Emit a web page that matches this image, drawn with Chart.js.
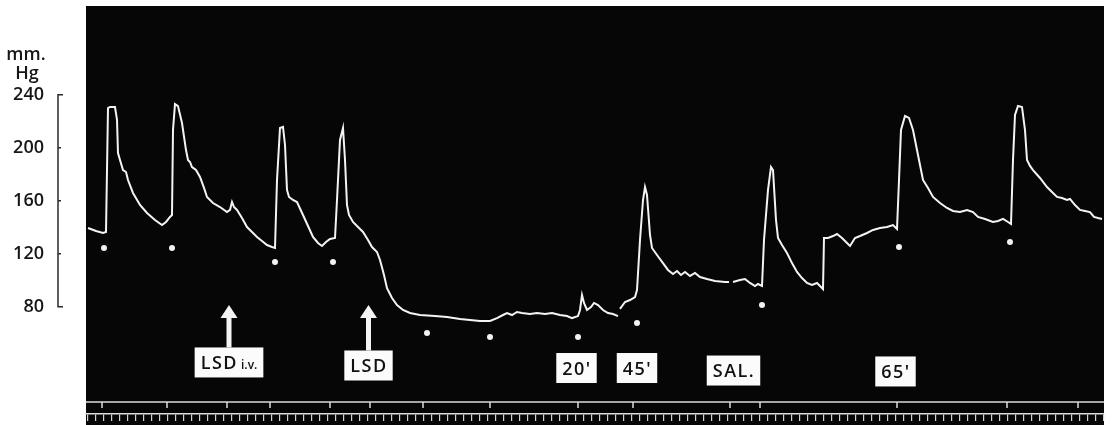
<!DOCTYPE html>
<html><head><meta charset="utf-8">
<script src="https://cdn.jsdelivr.net/npm/chart.js@4.4.1/dist/chart.umd.min.js"></script>
<style>html,body{margin:0;padding:0;background:#fff;}#wrap{width:1112px;height:425px;}</style>
</head><body><div id="wrap"><canvas id="c" width="1112" height="425"></canvas></div>
<script>
// ---- data (time in record units, pressure in mm Hg) ----
const TIME = [0,8,15,18,20,22,27,29,30,32,35,38,40,45,52,59,67,74,78,82,84,85,87,90,94,98,100,102,104,108,112,116,119,125,132,139,142,144,146,149,154,159,164,169,174,179,184,187,189,192,195,197,199,201,205,209,215,220,225,230,234,238,242,247,249,252,255,257,259,261,265,270,275,280,284,289,292,296,299,304,309,315,322,332,347,359,372,382,392,402,409,415,419,424,429,434,442,449,457,464,472,479,484,490,492,494,496,499,503,506,510,515,520,525,530,531,532,537,542,547,549,552,555,557,559,562,564,569,575,580,585,589,593,597,602,607,612,619,627,637,641,643,645,652,657,662,667,670,674,676,680,683,685,688,690,694,699,704,709,714,719,724,729,732,735,736,740,745,749,754,759,762,767,772,779,785,792,799,805,809,811,813,817,821,825,829,832,835,840,845,852,859,865,872,879,885,890,897,905,910,915,920,923,925,927,930,934,937,939,942,945,952,959,965,969,974,979,982,987,992,997,1002,1006,1010,1014];
const PRESSURE = [139.5,137.2,135.7,136.5,230,230.8,230.8,221,196,190.8,183.2,181.7,175.7,165.9,156.8,150.8,145.5,141.7,144,147.8,149.3,213.4,233,231.5,218.7,198.3,190.8,189.3,185.5,183.2,178,169.7,162.9,158.3,155.3,151.5,153.1,159.1,155.3,153.1,147,140.2,136.5,132.7,129.7,126.6,125.1,124.4,175.7,214.9,215.7,202.1,168.2,162.9,160.6,159.1,149.3,141,132.7,128.2,125.9,128.9,131.2,131.9,160.6,205.9,215,190.8,156.8,149.3,144,140.2,136.5,130.4,125.1,121.4,115.3,104,94.1,86.6,81.3,77.6,75.3,73.8,73,72.3,70.8,70,69.3,69.3,71.5,73.8,75.3,73.8,76.1,75.3,74.6,75.3,74.6,75.3,73.8,73,71.5,73,77.6,88.9,82.9,77.6,79.8,82.9,81.3,77.6,75.3,74.6,73,null,78.4,83.6,85.1,87.4,92.7,130.4,160.6,170.4,164.4,134.2,124.4,119.1,113,107.8,104.8,107,104,106.3,103.3,105.5,102.5,101,99.5,98.7,98.7,null,98.7,100.2,101,98,95.7,97.2,95.7,130.4,168.2,185.5,183.2,145.5,131.9,126.6,120.6,113,106.3,101.7,98,96.5,98,95.7,93.4,131.9,131.9,133.4,134.9,131.9,128.2,125.9,131.9,133.4,135.7,138,139.5,140.2,141.7,138.7,175.7,213.4,224,222.5,213.4,198.3,187,175.7,169.7,162.9,158.3,154.6,152.3,151.5,153.1,151.5,147.8,146.3,144,144.8,146.3,144,142.5,190.8,224.8,231.5,230.8,213.4,190.8,186.3,183.2,177.2,170.4,165.9,162.9,162.1,160.6,161.4,156.8,153.1,152.3,151.5,147.8,147,146.3];

// injection dots under the trace
const DOT_T = [16,84,187,245,339,402,490,549,674,811,922];
const DOT_P = [124.4,124.4,113.8,113.8,60.2,57.2,57.2,67.8,81.4,125.1,128.9];

// signal-marker events (upper marker line)
const EVENT_T = [14,79,139,182,242,282,335,402,490,545,642,672,809,919,990];
const MARKER_LEVEL = 8.2;
const EVENT_TICK_LEVEL = 5.9;

// axis
const Y_TICKS = [80,120,160,200,240];
const Y_UNIT = ['mm.', 'Hg'];
const T_MIN = -2, T_MAX = 1016, P_MIN = -0.9, P_MAX = 307.0;
const TIME_MARK_STEP = 8;

// annotation labels
const LABEL_TEXT = ['LSD','LSD',"20'","45'",'SAL.',"65'"];
const LABEL_SUB = ['i.v.','','','','',''];
const LABEL_T = [141,280.5,488.5,549,645.5,807.5];
const LABEL_P = [38.0,35.7,33.8,33.8,31.9,31.2];
const ARROW_LABEL = [0,1];
const ARROW_TIP_P = [81.4,81.4];

const AXIS_FONT = '"Open Sans", Lato, sans-serif';
const BOX_FONT = '"Open Sans", Lato, sans-serif';

const kymo = {
  id: 'kymo',
  beforeDraw(chart) {
    const {ctx, chartArea: a} = chart;
    ctx.save();
    ctx.fillStyle = '#060606';
    ctx.fillRect(a.left, a.top, a.right - a.left, chart.height - a.top);
    ctx.restore();
  },
  afterDatasetsDraw(chart) {
    const {ctx} = chart;
    const xs = chart.scales.x, ys = chart.scales.y;
    ctx.save();
    const boxes = [];
    for (let i = 0; i < LABEL_TEXT.length; i++) {
      const cx = xs.getPixelForValue(LABEL_T[i]);
      const cy = ys.getPixelForValue(LABEL_P[i]);
      ctx.font = '600 18px ' + BOX_FONT;
      ctx.letterSpacing = '1.5px';
      const w1 = ctx.measureText(LABEL_TEXT[i]).width;
      let w2 = 0;
      if (LABEL_SUB[i]) {
        ctx.font = '600 12px ' + BOX_FONT;
        ctx.letterSpacing = '0px';
        w2 = ctx.measureText(LABEL_SUB[i]).width + 4;
      }
      const w = w1 + w2 + 11, h = 30;
      const bx = cx - w / 2, by = cy - h / 2;
      boxes.push(by);
      ctx.fillStyle = '#fbfbfb';
      ctx.fillRect(bx, by, w, h);
      ctx.fillStyle = '#111';
      ctx.textBaseline = 'alphabetic';
      ctx.textAlign = 'left';
      ctx.font = '600 18px ' + BOX_FONT;
      ctx.letterSpacing = '1.5px';
      ctx.fillText(LABEL_TEXT[i], bx + 6, cy + 6.5);
      if (LABEL_SUB[i]) {
        ctx.font = '600 12px ' + BOX_FONT;
        ctx.letterSpacing = '0px';
        ctx.fillText(LABEL_SUB[i], bx + 6 + w1 + 3, cy + 6.5);
      }
    }
    ctx.letterSpacing = '0px';
    ARROW_LABEL.forEach((li, k) => {
      const x = xs.getPixelForValue(LABEL_T[li]);
      const tip = ys.getPixelForValue(ARROW_TIP_P[k]);
      const base = boxes[li];
      ctx.fillStyle = '#f4f4f4';
      ctx.fillRect(x - 2.5, tip + 11, 5, base - tip - 11);
      ctx.beginPath();
      ctx.moveTo(x, tip);
      ctx.lineTo(x + 8.5, tip + 13);
      ctx.lineTo(x - 8.5, tip + 13);
      ctx.closePath();
      ctx.fill();
    });
    ctx.restore();
  },
  afterDraw(chart) {
    const {ctx} = chart;
    const ys = chart.scales.y;
    const top = ys.getPixelForValue(Y_TICKS[Y_TICKS.length - 1]);
    const bot = ys.getPixelForValue(Y_TICKS[0]);
    ctx.save();
    ctx.strokeStyle = '#2a2a2a';
    ctx.lineWidth = 1.5;
    const bx = 58;
    ctx.beginPath();
    ctx.moveTo(bx + 5, top); ctx.lineTo(bx, top); ctx.lineTo(bx, bot); ctx.lineTo(bx + 5, bot);
    Y_TICKS.slice(1, -1).forEach(v => {
      const y = ys.getPixelForValue(v);
      ctx.moveTo(bx, y); ctx.lineTo(bx + 3, y);
    });
    ctx.stroke();
    ctx.fillStyle = '#161616';
    ctx.font = '600 18px ' + AXIS_FONT;
    ctx.textAlign = 'center';
    ctx.textBaseline = 'alphabetic';
    ctx.fillText(Y_UNIT[0], 26, top - 35);
    ctx.fillText(Y_UNIT[1], 27, top - 16);
    ctx.restore();
  }
};

const ctx = document.getElementById('c').getContext('2d');
new Chart(ctx, {
  type: 'line',
  data: {
    datasets: [
      {
        label: 'marker',
        data: [{x: T_MIN, y: MARKER_LEVEL}, {x: T_MAX, y: MARKER_LEVEL}],
        borderColor: '#dcdcdc', borderWidth: 1.5, pointRadius: 0, fill: false
      },
      {
        type: 'scatter',
        label: 'events',
        data: EVENT_T.map(t => ({x: t, y: EVENT_TICK_LEVEL})),
        pointStyle: 'line', rotation: 90, pointRadius: 3,
        borderColor: '#dcdcdc', borderWidth: 1.5
      },
      {
        type: 'scatter',
        label: 'dots',
        data: DOT_T.map((t, i) => ({x: t, y: DOT_P[i]})),
        pointStyle: 'circle', pointRadius: 3,
        backgroundColor: '#f2f2f2', borderWidth: 0
      },
      {
        label: 'Blood pressure',
        data: TIME.map((t, i) => ({x: t, y: PRESSURE[i]})),
        borderColor: '#f4f4f4', borderWidth: 2, pointRadius: 0,
        tension: 0, spanGaps: false, fill: false
      }
    ]
  },
  options: {
    responsive: false,
    animation: false,
    events: [],
    layout: {padding: {left: 0, top: 6, right: 8, bottom: 4}},
    plugins: {legend: {display: false}, tooltip: {enabled: false}},
    scales: {
      x: {
        type: 'linear', position: 'bottom', min: T_MIN, max: T_MAX,
        ticks: {display: false, stepSize: TIME_MARK_STEP, includeBounds: false, autoSkip: false},
        grid: {display: true, drawOnChartArea: false, drawTicks: true, tickLength: 7, color: '#d4d4d4', lineWidth: 1.2},
        border: {display: true, color: '#dedede', width: 1.5}
      },
      y: {
        type: 'linear', position: 'left', min: P_MIN, max: P_MAX,
        afterBuildTicks: s => { s.ticks = Y_TICKS.map(v => ({value: v})); },
        afterFit: s => { s.width = 86; s.paddingTop = 0; s.paddingBottom = 0; },
        ticks: {padding: 42, color: '#161616', font: {family: AXIS_FONT, size: 18, weight: '600'}},
        grid: {display: false, drawTicks: false},
        border: {display: false}
      }
    }
  },
  plugins: [kymo]
});
</script></body></html>
